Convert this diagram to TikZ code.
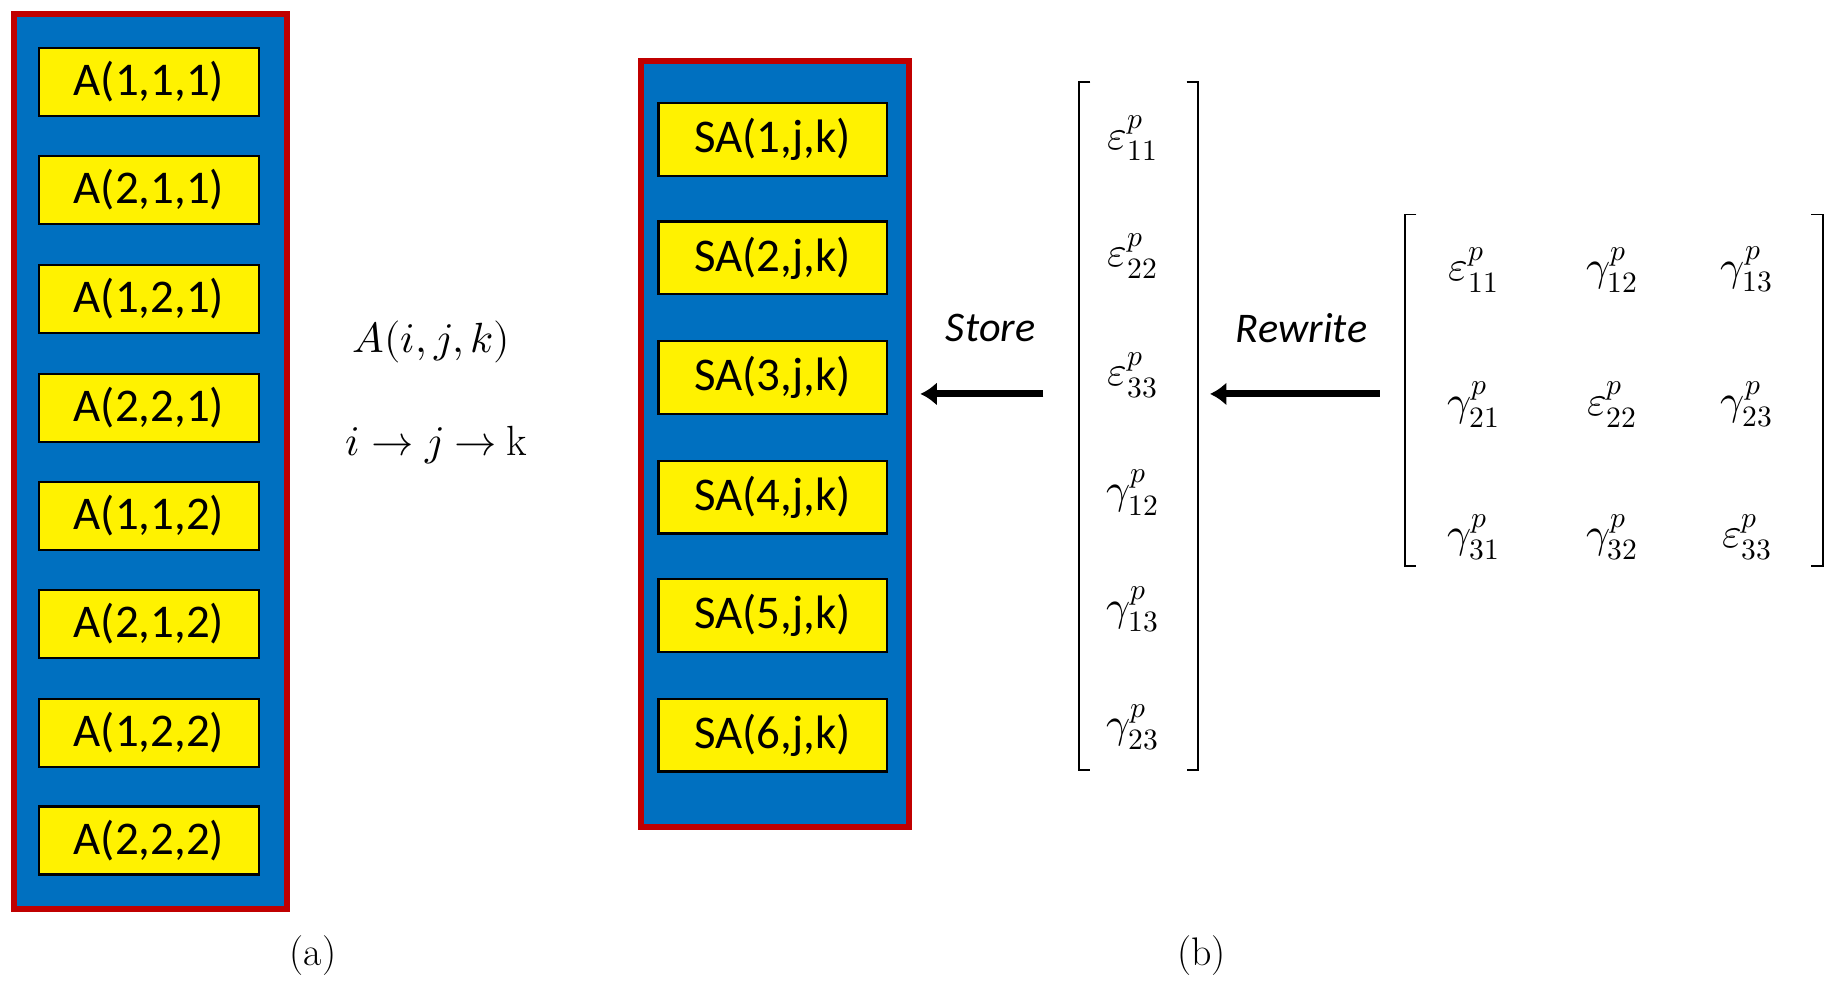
\documentclass[tikz,border=0pt]{standalone}
\usepackage{fontspec}
\usepackage{unicode-math}
\setmainfont{Carlito}
\setmathfont{Latin Modern Math}
\newfontfamily\serif{Latin Modern Roman}
\usetikzlibrary{arrows.meta}
\begin{document}
\begin{tikzpicture}[x=1pt,y=-1pt,
 panel/.style={draw={rgb,255:red,192;green,0;blue,0},line width=5pt,fill={rgb,255:red,0;green,112;blue,192}},
 cell/.style={draw=black,line width=2pt,fill=yellow,inner sep=0pt,font=\fontsize{40}{42}\selectfont},
 mth/.style={font=\fontsize{36}{38}\selectfont},
 brk/.style={line width=1.6pt},
 arr/.style={line width=6pt,-{Latex[length=14pt,width=20pt]}}]
\useasboundingbox (0,0) rectangle (1560,848);
\draw[panel] (12,12) rectangle (245,775);
\foreach \t/\y [count=\n] in {{A(1,1,1)}/70,{A(2,1,1)}/162,{A(1,2,1)}/255,{A(2,2,1)}/348,{A(1,1,2)}/440,{A(2,1,2)}/532,{A(1,2,2)}/625,{A(2,2,2)}/717}
  \node[cell,minimum width=188pt,minimum height=58pt] (a\n) at (127,\y) {\t};
\node[mth] (aijk) at (368,292) {$A(i,j,k)$};
\node[mth] (ord) at (372,380) {$i\rightarrow j\rightarrow$ {\serif k}};
\node[font=\serif\fontsize{34}{36}\selectfont] (la) at (267,815) {(a)};
\node[font=\serif\fontsize{34}{36}\selectfont] (lb) at (1025,815) {(b)};
\draw[panel] (547,52) rectangle (775,705);
\foreach \y [count=\n] in {119,220,322,424,525,627}
  \node[cell,minimum width=195pt,minimum height=62pt] (s\n) at (659,\y) {SA(\n,j,k)};
\node[mth] (store) at (845,280) {$\mathit{Store}$};
\node[mth] (rew) at (1110,280) {$\mathit{Rewrite}$};
\coordinate (a1s) at (890,336); \coordinate (a1e) at (785,336);
\coordinate (a2s) at (1177,336); \coordinate (a2e) at (1032,336);
\draw[arr] (a1s) -- (a1e);
\draw[arr] (a2s) -- (a2e);
\draw[brk] (930,70) -- (920,70) -- (920,657) -- (930,657);
\draw[brk] (1012,70) -- (1022,70) -- (1022,657) -- (1012,657);
\foreach \e/\y [count=\n] in {{\varepsilon^p_{11}}/118,{\varepsilon^p_{22}}/218,{\varepsilon^p_{33}}/320,{\gamma^p_{12}}/420,{\gamma^p_{13}}/520,{\gamma^p_{23}}/620}
  \node[mth] (v\n) at (966,\y) {$\e$};
\draw[brk] (1208,183) -- (1198,183) -- (1198,483) -- (1208,483);
\draw[brk] (1545,183) -- (1555,183) -- (1555,483) -- (1545,483);
\foreach \e/\x/\y [count=\n] in {{\varepsilon^p_{11}}/1257/230,{\gamma^p_{12}}/1375/230,{\gamma^p_{13}}/1490/230,
  {\gamma^p_{21}}/1257/345,{\varepsilon^p_{22}}/1375/345,{\gamma^p_{23}}/1490/345,
  {\gamma^p_{31}}/1257/458,{\gamma^p_{32}}/1375/458,{\varepsilon^p_{33}}/1490/458}
  \node[mth] (m\n) at (\x,\y) {$\e$};
\end{tikzpicture}
\end{document}
